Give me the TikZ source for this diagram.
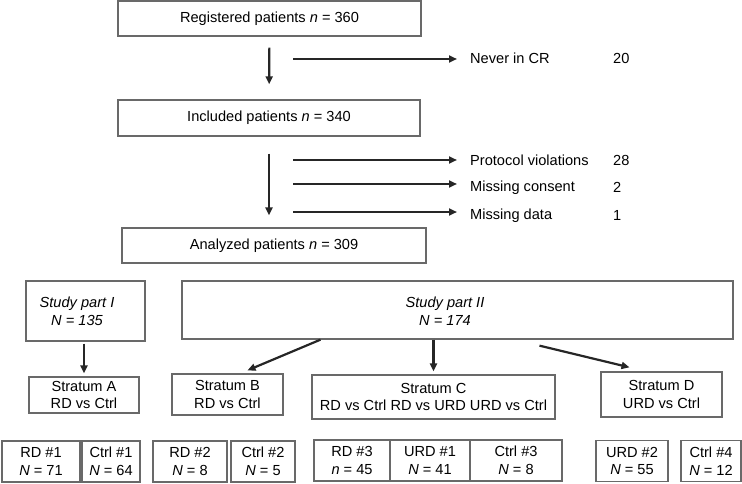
\documentclass[tikz,border=0pt]{standalone}
\usepackage{fontspec}
\setmainfont{Liberation Sans}
\usetikzlibrary{calc,positioning,arrows.meta}
\definecolor{boxgrey}{RGB}{105,105,105}
\def\pn{\textit{n}}
\def\pN{\textit{N}}
\tikzset{flowbox/.style={rectangle, draw=boxgrey, line width=1.3pt, inner sep=2pt, align=center}}
\tikzset{armbox/.style={flowbox, minimum height=41pt}}
\tikzset{flowarrow/.style={-{Triangle[length=8pt,width=7pt]}, line width=2.2pt, draw=black!85}}
\tikzset{droplabel/.style={anchor=base west, inner sep=0pt}}

\begin{document}
\begin{tikzpicture}[x=1pt, y=-1pt, font=\fontsize{14.6}{17.5}\selectfont]
  \useasboundingbox (0,0) rectangle (742,484);
  % patient flow
  \node[flowbox, minimum width=303pt, minimum height=35pt] (reg) at (269.5,18.5) {Registered patients \pn{} = 360};
  \node[flowbox, minimum width=302pt, minimum height=36pt] (inc) at (269,118) {Included patients \pn{} = 340};
  \node[flowbox, minimum width=304pt, minimum height=35pt] (ana) at (274,245.5) {Analyzed patients \pn{} = 309};
  \draw[flowarrow, shorten <=11pt, shorten >=15pt] (reg) -- (inc);
  \draw[flowarrow, shorten <=17pt, shorten >=12pt] (inc.south) -- (inc.south |- ana.north);

  % drop-outs
  \node[droplabel] (never) at (470,64) {Never in CR};
  \node[droplabel] (viol) at (470,166) {Protocol violations};
  \node[droplabel] (cons) at (470,191) {Missing consent};
  \node[droplabel] (miss) at (470,219) {Missing data};
  \node[droplabel] (nnever) at (613,64) {20};
  \node[droplabel] (nviol) at (613,166) {28};
  \node[droplabel] (ncons) at (613,193) {2};
  \node[droplabel] (nmiss) at (613,220) {1};
  \coordinate (out0) at (293,59);
  \coordinate (out1) at (293,160);
  \coordinate (out2) at (293,184);
  \coordinate (out3) at (293,212);
  \draw[flowarrow, shorten >=13pt] (out0) -- (out0 -| never.west);
  \draw[flowarrow, shorten >=13pt] (out1) -- (out1 -| viol.west);
  \draw[flowarrow, shorten >=13pt] (out2) -- (out2 -| cons.west);
  \draw[flowarrow, shorten >=13pt] (out3) -- (out3 -| miss.west);

  % study parts
  \node[flowbox, minimum width=119pt, minimum height=60pt] (part1) at (85.5,311) {};
  \node[font=\itshape\fontsize{14.6}{18}\selectfont, align=center] (part1txt) at (77,311) {Study part I\\N = 135};
  \node[flowbox, minimum width=551pt, minimum height=58pt] (part2) at (457.5,310) {};
  \node[font=\itshape\fontsize{14.6}{18}\selectfont, align=center] (part2txt) at (445,311) {Study part II\\N = 174};

  % strata
  \node[flowbox, minimum width=110pt, minimum height=36pt] (stratA) at (84,395) {Stratum A\\RD vs Ctrl};
  \node[flowbox, minimum width=111pt, minimum height=41pt] (stratB) at (227.5,394.5) {Stratum B\\RD vs Ctrl};
  \node[flowbox, minimum width=243pt, minimum height=44pt] (stratC) at (433.5,397) {Stratum C\\RD vs Ctrl RD vs URD URD vs Ctrl};
  \node[flowbox, minimum width=121pt, minimum height=45pt] (stratD) at (661.5,394.5) {Stratum D\\URD vs Ctrl};
  \draw[flowarrow, shorten <=2pt, shorten >=3pt] (stratA.north |- part1.south) -- (stratA.north);
  \draw[flowarrow] ($(part2.south)+(-137,0)$) -- ($(stratB.north)+(20,-3)$);
  \draw[flowarrow, shorten >=3pt] (stratC.north |- part2.south) -- (stratC.north);
  \draw[flowarrow] ($(part2.south)+(82,6)$) -- ($(stratD.north)+(-32,-4)$);

  % treatment arms
  \node[armbox, minimum width=78pt] (rd1) at (41,461.5) {RD \#1\\\pN{} = 71};
  \node[armbox, minimum width=58pt] (ctrl1) at (111,461.5) {Ctrl \#1\\\pN{} = 64};
  \node[armbox, minimum width=74pt] (rd2) at (190,461.5) {RD \#2\\\pN{} = 8};
  \node[armbox, minimum width=64pt] (ctrl2) at (263,461.5) {Ctrl \#2\\\pN{} = 5};
  \node[armbox, minimum width=76pt] (rd3) at (352,460.5) {RD \#3\\\pn{} = 45};
  \node[armbox, minimum width=80pt] (urd1) at (430,460.5) {URD \#1\\\pN{} = 41};
  \node[armbox, minimum width=92pt] (ctrl3) at (516,460.5) {Ctrl \#3\\\pN{} = 8};
  \node[armbox, minimum width=72pt] (urd2) at (632,461) {URD \#2\\\pN{} = 55};
  \node[armbox, minimum width=60pt] (ctrl4) at (711,461) {Ctrl \#4\\\pN{} = 12};
\end{tikzpicture}
\end{document}
